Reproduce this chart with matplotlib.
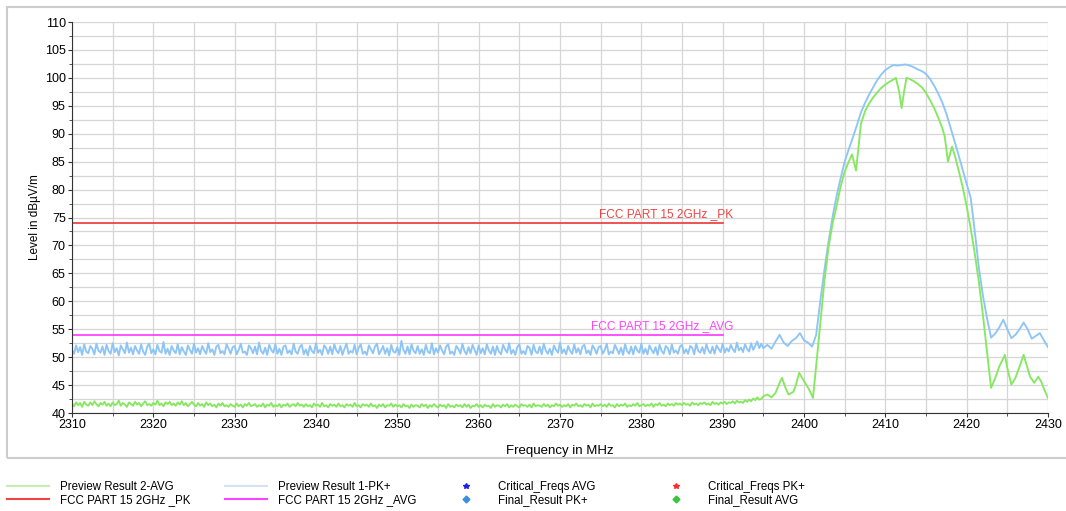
import numpy as np
import matplotlib.pyplot as plt
from matplotlib.lines import Line2D
from matplotlib.patches import Rectangle
from matplotlib.ticker import MultipleLocator

plt.rcParams['font.family'] = ['Liberation Sans', 'DejaVu Sans']

# sweep below the band edge, 0.25 MHz steps from 2310 to 2394.75
pk_flat = [
    51.3, 50.6, 52.1, 50.9, 51.8, 50.4, 52.3, 51.0, 50.7, 52.0,
    51.5, 50.5, 52.4, 51.2, 50.8, 51.9, 50.4, 52.2, 51.1, 50.6,
    52.5, 50.9, 51.6, 50.3, 52.1, 51.4, 50.7, 52.6, 50.8, 51.7,
    50.5, 52.0, 51.2, 50.6, 52.3, 51.0, 50.4, 51.9, 52.4, 50.7,
    51.4, 50.5, 52.2, 51.1, 50.8, 52.7, 50.6, 51.5, 50.4, 52.0,
    51.2, 50.7, 52.3, 50.5, 51.8, 51.0, 50.4, 52.1, 51.3, 50.6,
    52.4, 50.8, 51.6, 50.5, 52.0, 51.2, 50.6, 52.5, 50.9, 51.4,
    50.4, 51.9, 52.2, 50.7, 51.1, 50.5, 52.3, 51.5, 50.6, 51.8,
    52.0, 50.5, 51.3, 52.4, 50.8, 51.0, 50.4, 52.1, 51.6, 50.7,
    51.9, 50.5, 52.6, 51.1, 50.6, 51.7, 50.4, 52.2, 51.3, 50.8,
    52.3, 50.6, 51.5, 50.4, 51.9, 52.1, 50.7, 51.2, 50.5, 52.4,
    51.0, 50.6, 51.8, 52.2, 50.5, 51.4, 50.3, 52.0, 51.1, 50.7,
    52.5, 50.8, 51.3, 50.4, 52.1, 51.6, 50.6, 51.9, 50.5, 52.3,
    51.2, 50.7, 52.0, 50.4, 51.5, 52.4, 50.6, 51.1, 50.8, 52.2,
    50.5, 51.7, 52.3, 50.6, 51.0, 50.4, 52.1, 51.4, 50.7, 51.9,
    52.4, 50.5, 51.2, 52.0, 50.6, 51.6, 50.3, 52.2, 51.0, 50.8,
    51.8, 50.4, 52.9, 51.3, 50.6, 51.9, 50.5, 52.3, 51.1, 50.7,
    52.0, 50.6, 51.4, 50.4, 52.2, 51.0, 50.7, 52.5, 50.5, 51.6,
    50.8, 52.1, 51.2, 50.5, 51.9, 52.3, 50.6, 51.0, 50.4, 52.0,
    51.5, 50.6, 52.4, 51.1, 50.5, 51.8, 50.7, 52.2, 51.3, 50.4,
    52.1, 50.7, 51.6, 50.5, 52.3, 51.2, 50.6, 51.9, 50.4, 52.0,
    51.0, 50.5, 52.2, 51.4, 50.8, 52.5, 50.6, 51.3, 50.4, 51.8,
    52.3, 50.6, 51.1, 50.5, 52.0, 51.7, 50.4, 52.2, 51.0, 50.7,
    51.9, 50.5, 52.4, 51.2, 50.6, 51.5, 50.4, 52.1, 51.3, 50.8,
    52.6, 50.7, 51.4, 50.5, 52.0, 51.1, 50.6, 52.3, 50.8, 51.6,
    50.5, 51.9, 52.2, 50.7, 51.2, 50.4, 52.1, 51.5, 50.6, 51.8,
    52.0, 50.6, 51.3, 52.4, 50.5, 51.0, 50.7, 52.2, 51.4, 50.6,
    51.7, 50.4, 52.3, 51.1, 50.6, 51.9, 50.5, 52.0, 51.2, 50.8,
    52.4, 50.6, 51.5, 50.5, 52.1, 51.3, 50.7, 51.8, 50.4, 52.2,
    51.1, 50.6, 52.0, 51.6, 50.5, 52.3, 50.8, 51.2, 50.6, 51.9,
    52.2, 50.7, 51.4, 50.6, 52.0, 51.7, 50.5, 52.4, 51.1, 50.8,
    51.8, 50.6, 52.3, 51.2, 50.7, 51.9, 50.6, 52.1, 51.5, 50.9,
    52.4, 50.8, 51.6, 51.0, 52.2, 51.4, 50.9, 52.6, 51.2, 51.7,
    50.9, 52.3, 51.5, 51.0, 52.5, 51.3, 52.0, 52.8, 51.6, 52.4,
]
avg_flat = [
    41.7, 41.2, 41.9, 41.4, 41.8, 41.1, 42.0, 41.5, 41.3, 41.9,
    41.4, 42.1, 41.6, 41.2, 41.8, 41.5, 42.0, 41.3, 41.7, 41.2,
    41.9, 41.4, 41.6, 42.2, 41.3, 41.8, 41.5, 41.1, 41.9, 41.6,
    41.3, 42.0, 41.5, 41.8, 41.2, 41.7, 42.1, 41.4, 41.6, 41.3,
    41.8, 41.5, 42.2, 41.4, 41.7, 41.2, 41.9, 41.6, 42.0, 41.4,
    41.7, 41.3, 41.9, 41.5, 42.1, 41.4, 41.8, 41.2, 41.6, 42.0,
    41.5, 41.2, 41.8, 41.3, 41.6, 41.1, 41.9, 41.4, 41.7, 41.2,
    41.5, 41.0, 41.7, 41.3, 41.8, 41.2, 41.4, 41.1, 41.6, 41.3,
    41.1, 41.7, 41.2, 41.5, 41.0, 41.6, 41.3, 41.8, 41.2, 41.4,
    41.6, 41.1, 41.4, 41.2, 41.7, 41.0, 41.5, 41.3, 41.8, 41.1,
    41.4, 41.2, 41.6, 41.0, 41.5, 41.3, 41.7, 41.1, 41.4, 41.6,
    41.2, 41.8, 41.3, 41.5, 41.1, 41.6, 41.2, 41.4, 41.0, 41.7,
    41.3, 41.5, 41.1, 41.8, 41.2, 41.4, 41.0, 41.6, 41.3, 41.5,
    41.1, 41.7, 41.2, 41.4, 41.0, 41.6, 41.3, 41.5, 41.1, 41.8,
    41.2, 41.4, 41.0, 41.6, 41.3, 41.5, 41.1, 41.7, 41.2, 41.4,
    40.9, 41.5, 41.2, 41.6, 41.0, 41.4, 41.3, 41.7, 41.1, 41.5,
    41.2, 41.4, 41.0, 41.6, 41.2, 41.3, 40.9, 41.5, 41.1, 41.4,
    41.3, 41.0, 41.6, 41.2, 41.5, 40.9, 41.4, 41.1, 41.6, 41.2,
    41.0, 41.5, 41.2, 41.4, 40.9, 41.6, 41.1, 41.3, 41.0, 41.5,
    41.2, 41.4, 41.0, 41.6, 41.1, 41.5, 40.9, 41.3, 41.2, 41.6,
    41.1, 41.4, 41.0, 41.5, 41.2, 41.3, 40.9, 41.6, 41.1, 41.4,
    41.3, 41.0, 41.5, 41.2, 41.6, 41.0, 41.4, 41.1, 41.5, 41.2,
    41.0, 41.6, 41.3, 41.4, 41.1, 41.5, 41.0, 41.7, 41.2, 41.4,
    41.3, 41.1, 41.6, 41.2, 41.5, 41.0, 41.4, 41.2, 41.7, 41.3,
    41.5, 41.1, 41.4, 41.2, 41.6, 41.0, 41.5, 41.3, 41.7, 41.2,
    41.4, 41.1, 41.6, 41.3, 41.5, 41.0, 41.7, 41.2, 41.4, 41.3,
    41.6, 41.2, 41.5, 41.1, 41.7, 41.3, 41.4, 41.0, 41.6, 41.2,
    41.5, 41.3, 41.7, 41.1, 41.4, 41.2, 41.6, 41.3, 41.8, 41.2,
    41.4, 41.6, 41.2, 41.5, 41.3, 41.7, 41.1, 41.6, 41.4, 41.8,
    41.3, 41.5, 41.2, 41.7, 41.4, 41.6, 41.3, 41.8, 41.5, 41.7,
    41.4, 41.8, 41.5, 41.6, 41.3, 41.9, 41.5, 41.7, 41.4, 41.8,
    41.6, 41.9, 41.5, 41.7, 41.4, 42.0, 41.6, 41.8, 41.5, 41.9,
    41.7, 42.0, 41.6, 41.9, 41.8, 42.1, 41.7, 42.2, 41.9, 42.0,
    41.8, 42.3, 42.0, 42.4, 42.1, 42.6, 42.3, 42.8, 42.4, 42.5,
]

# band edge + carrier, PK+ at 0.5 MHz steps from 2395 to 2430
pk_peak = [
    51.6, 52.2, 51.5, 52.8, 54.0, 52.6, 52.0, 52.9, 53.4, 54.3,
    53.0, 52.6, 51.9, 54.0, 60.0, 65.5, 70.5, 75.0, 78.8, 82.0,
    85.0, 87.2, 89.3, 91.5, 93.8, 95.5, 97.0, 98.3, 99.6, 100.6,
    101.4, 101.9, 102.3, 102.2, 102.3, 102.4, 102.2, 101.9, 101.5, 101.2,
    100.7, 99.8, 98.6, 97.2, 95.6, 93.6, 91.2, 88.7, 86.2, 83.6,
    81.0, 78.5, 72.5, 66.0, 61.0, 57.0, 53.5, 54.2, 55.3, 56.7,
    55.0, 53.4, 54.0, 55.0, 56.2, 55.0, 53.3, 53.8, 54.3, 53.0,
    51.8,
]
avg_peak_f = [
    2395.0, 2395.5, 2396.0, 2396.5, 2397.0, 2397.3, 2397.7, 2398.1, 2398.7, 2399.0,
    2399.4, 2399.8, 2400.3, 2400.7, 2401.1, 2401.5, 2402.0, 2402.5, 2403.0, 2403.5,
    2404.0, 2404.5, 2405.0, 2405.5, 2405.9, 2406.4, 2407.0, 2407.5, 2408.0, 2408.5,
    2409.0, 2409.5, 2410.0, 2410.5, 2411.0, 2411.3, 2411.7, 2412.0, 2412.3, 2412.6,
    2413.0, 2413.5, 2414.0, 2414.5, 2415.0, 2415.5, 2416.0, 2416.5, 2417.0, 2417.3,
    2417.7, 2418.2, 2418.6, 2419.0, 2419.5, 2420.0, 2420.5, 2421.0, 2421.5, 2422.0,
    2422.5, 2423.0, 2423.5, 2424.0, 2424.7, 2425.0, 2425.5, 2426.0, 2426.5, 2427.0,
    2427.5, 2427.8, 2428.3, 2428.8, 2429.2, 2429.6, 2430.0,
]
avg_peak = [
    43.0, 43.3, 42.8, 43.6, 45.4, 46.3, 44.6, 43.3, 43.8, 45.0,
    47.2, 46.2, 45.0, 44.0, 42.7, 48.5, 56.0, 63.5, 69.5, 73.8,
    77.0, 80.5, 83.2, 85.0, 86.3, 83.4, 91.8, 94.0, 95.4, 96.5,
    97.4, 98.2, 98.8, 99.3, 99.7, 100.0, 97.5, 94.6, 97.5, 100.0,
    99.8, 99.4, 98.9, 98.3, 97.3, 96.0, 94.6, 92.9, 91.0, 89.5,
    85.0, 87.7, 85.8, 83.5, 80.5, 77.0, 73.0, 68.5, 63.5, 57.5,
    51.0, 44.5, 46.2, 48.3, 50.4, 48.0, 45.1, 46.3, 48.3, 50.4,
    48.0, 46.5, 45.4, 46.5, 45.5, 44.0, 42.7,
]

limit_f = [2310, 2390]
limit_pk = 74
limit_avg = 54

f_flat = np.arange(2310, 2395, 0.25)
f_pk_peak = np.arange(2395, 2430.01, 0.5)
f_pk = np.concatenate([f_flat, f_pk_peak])
pk = np.concatenate([pk_flat, pk_peak])
f_avg = np.concatenate([f_flat, avg_peak_f])
avg = np.concatenate([avg_flat, avg_peak])

c_pk = '#8ec5f7'
c_avg = '#86e860'
c_lpk = '#ee4444'
c_lavg = '#ff44ff'

fig = plt.figure(figsize=(10.66, 5.11), dpi=100)
ax = fig.add_axes([72/1066, 1-413/511, 976/1066, 391/511])

ax.plot(f_pk, pk, color=c_pk, lw=1.35)
ax.plot(f_avg, avg, color=c_avg, lw=1.35)
ax.plot(limit_f, [limit_pk]*2, color=c_lpk, lw=1.3)
ax.plot(limit_f, [limit_avg]*2, color=c_lavg, lw=1.3)
ax.text(2391.3, limit_pk + 0.45, 'FCC PART 15 2GHz _PK', color=c_lpk,
        fontsize=8.6, ha='right', va='bottom')
ax.text(2391.3, limit_avg + 0.45, 'FCC PART 15 2GHz _AVG', color=c_lavg,
        fontsize=8.6, ha='right', va='bottom')

ax.set_xlim(2310, 2430)
ax.set_ylim(40, 110)
ax.xaxis.set_major_locator(MultipleLocator(10))
ax.xaxis.set_minor_locator(MultipleLocator(5))
ax.yaxis.set_major_locator(MultipleLocator(5))
ax.yaxis.set_minor_locator(MultipleLocator(2.5))
ax.grid(True, which='both', color='#d6d6d6', lw=0.9)
ax.set_axisbelow(True)
for s in ['top', 'right']:
    ax.spines[s].set_visible(False)
for s in ['left', 'bottom']:
    ax.spines[s].set_color('#333333')
ax.tick_params(which='major', length=3, color='#333333', labelsize=9, pad=1.5)
ax.tick_params(which='minor', length=2.5, color='#333333')
ax.set_xlabel('Frequency in MHz', fontsize=9.5, labelpad=10)
ax.set_ylabel('Level in dB\u00b5V/m', fontsize=8.5, labelpad=3)

fig.patches.append(Rectangle((7/1066, 1-458/511), 1.1, 451/511,
                             transform=fig.transFigure, fill=False,
                             edgecolor='#cccccc', lw=1.5))

cols = [
    (7, [Line2D([], [], color='#c4efb4', lw=1.5), Line2D([], [], color=c_lpk, lw=1.5)],
     ['Preview Result 2-AVG', 'FCC PART 15 2GHz _PK']),
    (225, [Line2D([], [], color='#d4e2f4', lw=1.5), Line2D([], [], color=c_lavg, lw=1.5)],
     ['Preview Result 1-PK+', 'FCC PART 15 2GHz _AVG']),
    (445, [Line2D([], [], ls='', marker='*', ms=4, color='#2020e0'),
           Line2D([], [], ls='', marker='D', ms=3.5, color='#3c8ede')],
     ['Critical_Freqs AVG', 'Final_Result PK+']),
    (655, [Line2D([], [], ls='', marker='*', ms=4, color='#ff2a2a'),
           Line2D([], [], ls='', marker='D', ms=3.5, color='#3cc43c')],
     ['Critical_Freqs PK+', 'Final_Result AVG']),
]
for x0, hs, ls in cols:
    fig.legend(hs, ls, loc='upper left', bbox_to_anchor=(x0/1066, 1-481/511),
               frameon=False, fontsize=8.3, handlelength=3.6, handletextpad=1.0,
               labelspacing=0.1, borderpad=0, borderaxespad=0)

fig.savefig('out.png', dpi=100)
